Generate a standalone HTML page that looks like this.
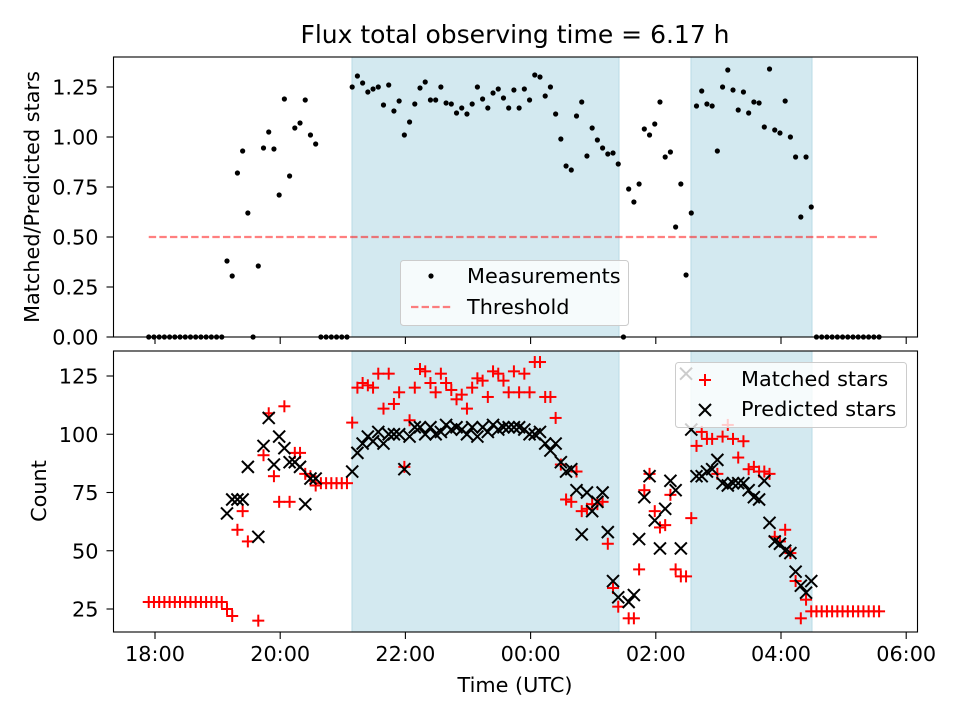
<!DOCTYPE html>
<html><head><meta charset="utf-8"><style>
body{margin:0;background:#fff;}
svg{display:block;font-family:"DejaVu Sans","Liberation Sans",sans-serif;}
</style></head><body>
<svg id="chart" width="960" height="720" xmlns="http://www.w3.org/2000/svg"></svg>
<script>
// hours since 18:00 for each sample index start and step
const startHour = -0.1;
const stepHour = 5/60;
const ratioValues = [0,0,0,0,0,0,0,0,0,0,0,0,0,0,0,0.38,0.305,0.82,0.93,0.62,0,0.355,0.945,1.025,0.94,0.71,1.19,0.805,1.045,1.07,1.185,1.01,0.965,0,0,0,0,0,0,1.25,1.305,1.27,1.225,1.24,1.25,1.16,1.26,1.13,1.18,1.01,1.075,1.165,1.245,1.275,1.185,1.185,1.25,1.17,1.165,1.12,1.145,1.115,1.165,1.25,1.19,1.145,1.22,1.24,1.195,1.145,1.235,1.145,1.24,1.185,1.31,1.30,1.205,1.25,1.115,0.99,0.855,0.835,1.105,1.175,0.905,1.045,0.985,0.945,0.915,0.92,0.865,0,0.74,0.675,0.765,1.04,1.01,1.065,1.175,0.90,0.925,0.55,0.765,0.31,0.62,1.155,1.23,1.165,1.155,0.93,1.25,1.335,1.235,1.135,1.225,1.12,1.175,1.17,1.05,1.34,1.035,1.02,1.18,1.0,0.90,0.60,0.90,0.65,0,0,0,0,0,0,0,0,0,0,0,0,0];
const predictedValues = [null,null,null,null,null,null,null,null,null,null,null,null,null,null,null,66,72,72,72,86,null,56,95,107,87,99,94,88,88,86,70,81,81,null,null,null,null,null,null,84,92,96,99,97,101,96,100,100,100,85,99,103,103,100,103,100,101,104,102,103,102,100,103,99,103,101,104,102,103,103,103,103,102,100,100,101,96,93,96,88,84,85,76,57,75,67,71,75,58,37,30,null,28,31,55,73,82,63,51,68,80,76,51,126,102,82,82,84,85,89,79,78,79,79,79,76,73,72,80,62,54,53,50,49,41,35,32,37,null,null,null,null,null,null,null,null,null,null,null,null,null];
const matchedValues = [28,28,28,28,28,28,28,28,28,28,28,28,28,28,28,25,22,59,67,54,null,20,91,109,82,71,112,71,92,92,83,82,78,79,79,79,79,79,79,105,120,122,121,120,126,111,126,113,118,86,106,120,128,127,122,118,126,122,119,115,117,111,120,124,123,116,127,126,123,118,127,118,126,118,131,131,116,116,107,87,72,71,84,67,68,70,70,71,53,34,26,null,21,21,42,76,83,67,60,61,74,42,39,39,64,95,101,98,98,83,99,104,98,90,97,85,86,84,84,83,56,54,59,49,37,21,29,24,24,24,24,24,24,24,24,24,24,24,24,24,24];
const thresholdValue = 0.5;
const spanStarts = [3.147, 8.562];
const spanEnds = [7.412, 10.495];
const xTickHours = [0,2,4,6,8,10,12];
const xTickLabels = ["18:00","20:00","22:00","00:00","02:00","04:00","06:00"];
const topTicks = [0,0.25,0.5,0.75,1.0,1.25];
const topTickLabels = ["0.00","0.25","0.50","0.75","1.00","1.25"];
const botTicks = [25,50,75,100,125];

const NS="http://www.w3.org/2000/svg";
const svg=document.getElementById('chart');
function mk(tag,attrs,parent){const e=document.createElementNS(NS,tag);for(const k in attrs)e.setAttribute(k,attrs[k]);(parent||svg).appendChild(e);return e;}
const L=113.5,R=917.5,T1=57,B1=337,T2=351,B2=632;
const FS=20.8;
const TL=7;
const M=6;
const xS=h=>155+h*62.6;
const yTop=v=>337-v*200;
const yBot=v=>609-(v-25)*2.33;
const tOf=i=>startHour+i*stepHour;

for(const [T,B,nm] of [[T1,B1,'top'],[T2,B2,'bottom']]){
  spanStarts.forEach((s,k)=>{
    const r=mk('rect',{x:xS(s),y:T,width:xS(spanEnds[k])-xS(s),height:B-T,fill:'#d3e9f0',stroke:'#b9dbe6','stroke-width':1});
    
    
  });
}
const th=mk('line',{x1:xS(startHour),x2:xS(tOf(ratioValues.length-1)),y1:yTop(thresholdValue),y2:yTop(thresholdValue),stroke:'#ff0000','stroke-opacity':0.5,'stroke-width':2.2,'stroke-dasharray':'7.4,3.2'});


ratioValues.forEach((v,i)=>{
  const c=mk('circle',{cx:xS(tOf(i)),cy:yTop(v),r:2.6,fill:'#000'});
  
  
});
function plus(x,y,color){const g=mk('g',{stroke:color,'stroke-width':2});mk('line',{x1:x-M,x2:x+M,y1:y,y2:y},g);mk('line',{x1:x,x2:x,y1:y-M,y2:y+M},g);return g;}
function cross(x,y,color){const g=mk('g',{stroke:color,'stroke-width':2});mk('line',{x1:x-M,x2:x+M,y1:y-M,y2:y+M},g);mk('line',{x1:x-M,x2:x+M,y1:y+M,y2:y-M},g);return g;}
matchedValues.forEach((v,i)=>{ if(v==null)return;
  const g=plus(xS(tOf(i)),yBot(v),'#ff0000');
  
  
});
predictedValues.forEach((v,i)=>{ if(v==null)return;
  const g=cross(xS(tOf(i)),yBot(v),'#000');
  
  
});
for(const [T,B,nm] of [[T1,B1,'top'],[T2,B2,'bottom']]){
  const f=mk('rect',{x:L,y:T,width:R-L,height:B-T,fill:'none',stroke:'#000','stroke-width':1.1});
  
  
  xTickHours.forEach(h=>mk('line',{x1:xS(h),x2:xS(h),y1:B,y2:B+TL,stroke:'#000','stroke-width':1.1}));
}
xTickHours.forEach((h,k)=>{
  const t=mk('text',{x:xS(h),y:B2+29,'font-size':FS,'text-anchor':'middle'});t.textContent=xTickLabels[k];
  
  
});
topTicks.forEach((v,k)=>{
  mk('line',{x1:L-TL,x2:L,y1:yTop(v),y2:yTop(v),stroke:'#000','stroke-width':1.1});
  const t=mk('text',{x:L-15,y:yTop(v)+7.5,'font-size':FS,'text-anchor':'end'});t.textContent=topTickLabels[k];
  
  
});
botTicks.forEach(v=>{
  mk('line',{x1:L-TL,x2:L,y1:yBot(v),y2:yBot(v),stroke:'#000','stroke-width':1.1});
  const t=mk('text',{x:L-15,y:yBot(v)+7.5,'font-size':FS,'text-anchor':'end'});t.textContent=v;
  
  
});
let t=mk('text',{x:515,y:43,'font-size':25,'text-anchor':'middle'});t.textContent='Flux total observing time = 6.17 h';

t=mk('text',{x:0,y:0,'font-size':FS,'text-anchor':'middle',transform:'translate(39,197) rotate(-90)'});t.textContent='Matched/Predicted stars';

t=mk('text',{x:0,y:0,'font-size':FS,'text-anchor':'middle',transform:'translate(46,491) rotate(-90)'});t.textContent='Count';

t=mk('text',{x:515,y:692,'font-size':FS,'text-anchor':'middle'});t.textContent='Time (UTC)';

let lg=mk('g',{});

mk('rect',{x:400.5,y:260.5,width:228,height:65,rx:3,fill:'#fff','fill-opacity':0.8,stroke:'#ccc'},lg);
mk('circle',{cx:431,cy:276,r:2.6,fill:'#000'},lg);
mk('line',{x1:411,x2:451,y1:307,y2:307,stroke:'#ff0000','stroke-opacity':0.5,'stroke-width':2.2,'stroke-dasharray':'7.4,3.2'},lg);
t=mk('text',{x:467,y:283,'font-size':FS},lg);t.textContent='Measurements';
t=mk('text',{x:467,y:314,'font-size':FS},lg);t.textContent='Threshold';
lg=mk('g',{});

mk('rect',{x:675.5,y:362.5,width:231,height:65,rx:3,fill:'#fff','fill-opacity':0.8,stroke:'#ccc'},lg);
plus(705,380,'#ff0000');lg.appendChild(svg.lastChild);
cross(705,410,'#000');lg.appendChild(svg.lastChild);
t=mk('text',{x:741,y:386,'font-size':FS},lg);t.textContent='Matched stars';
t=mk('text',{x:741,y:416,'font-size':FS},lg);t.textContent='Predicted stars';
</script>
</body></html>
